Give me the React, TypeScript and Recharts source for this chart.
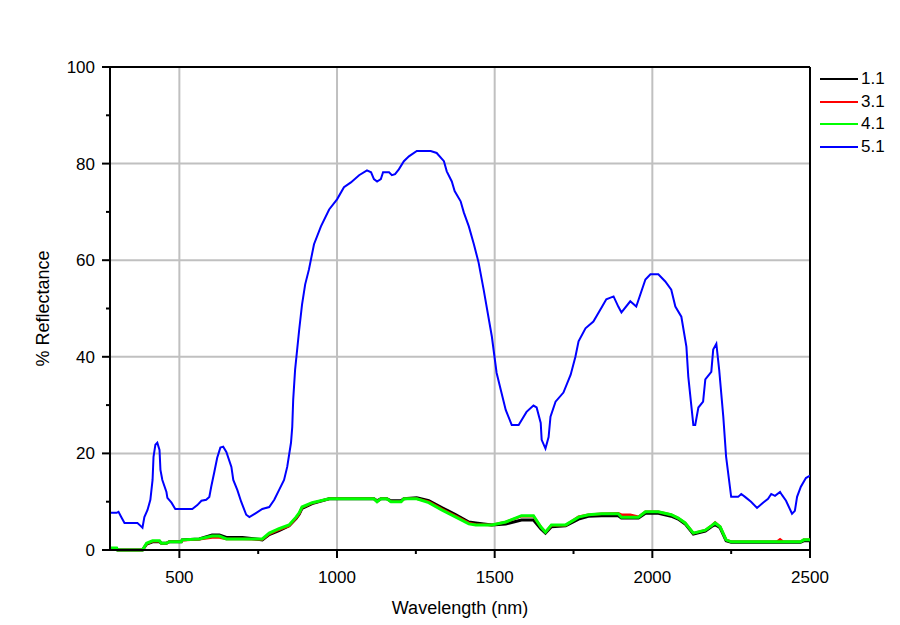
import {
  CartesianGrid,
  Label,
  Line,
  LineChart,
  ReferenceLine,
  XAxis,
  YAxis,
} from "recharts";

// wavelength (nm) for the three low spectra
const LOW_NM = [
  280, 301, 304, 383, 396, 415, 437, 443, 459, 468, 506, 509, 563, 604, 627, 649, 700, 763,
  785, 816, 848, 870, 880, 889, 921, 975, 1117, 1127, 1139, 1158, 1171, 1203, 1212, 1253,
  1291, 1332, 1377, 1418, 1440, 1491, 1535, 1585, 1623, 1646, 1661, 1680, 1725, 1766, 1797,
  1839, 1892, 1902, 1930, 1956, 1978, 2019, 2060, 2082, 2104, 2130, 2168, 2187, 2199, 2215,
  2234, 2250, 2395, 2405, 2415, 2470, 2480, 2500,
];

const S11_PCT = [
  0.3, 0.3, 0, 0, 1.2, 1.7, 1.7, 1.4, 1.4, 1.7, 1.7, 2.1, 2.3, 3.1, 3.1, 2.6, 2.6, 2.1, 3.2,
  4.0, 5.0, 6.5, 7.4, 8.6, 9.6, 10.6, 10.6, 10.2, 10.6, 10.6, 10.2, 10.2, 10.6, 10.8, 10.2,
  8.8, 7.3, 5.8, 5.6, 5.2, 5.4, 6.2, 6.2, 4.4, 3.5, 4.8, 5.0, 6.4, 7.0, 7.1, 7.1, 6.6, 6.6,
  6.6, 7.6, 7.6, 7.0, 6.4, 5.4, 3.3, 3.9, 4.8, 5.3, 4.6, 1.9, 1.6, 1.6, 1.6, 1.6, 1.6, 1.9,
  1.9,
];

const S31_PCT = [
  0.2, 0.2, 0, 0, 1.3, 1.8, 1.8, 1.4, 1.4, 1.7, 1.7, 2.0, 2.2, 2.6, 2.6, 2.3, 2.3, 2.2, 3.3,
  4.2, 5.0, 6.6, 7.5, 8.8, 9.7, 10.6, 10.6, 10.0, 10.6, 10.6, 10.0, 10.0, 10.6, 10.6, 10.0,
  8.5, 7.0, 5.6, 5.3, 5.2, 5.8, 7.0, 7.0, 4.8, 3.7, 5.1, 5.1, 6.9, 7.3, 7.5, 7.6, 7.3, 7.3,
  6.9, 7.9, 7.9, 7.3, 6.6, 5.6, 3.5, 4.1, 5.0, 5.7, 4.8, 2.1, 1.7, 1.7, 2.2, 1.7, 1.7, 2.1,
  2.1,
];

const S41_PCT = [
  0.4, 0.4, 0, 0, 1.4, 1.9, 1.9, 1.4, 1.4, 1.7, 1.7, 2.1, 2.3, 2.9, 2.9, 2.3, 2.3, 2.3, 3.5,
  4.4, 5.2, 6.8, 7.7, 8.9, 9.8, 10.6, 10.6, 10.0, 10.6, 10.6, 10.0, 10.0, 10.6, 10.6, 9.8,
  8.3, 6.8, 5.4, 5.2, 5.2, 5.8, 7.1, 7.1, 4.8, 3.7, 5.2, 5.2, 6.8, 7.3, 7.5, 7.5, 6.8, 6.8,
  6.8, 7.9, 7.9, 7.3, 6.6, 5.6, 3.5, 4.1, 5.0, 5.6, 4.8, 2.1, 1.7, 1.7, 1.7, 1.7, 1.7, 2.1,
  2.1,
];

// 5.1 spectrum
const S51_NM = [
  280, 301, 307, 316, 326, 367, 377, 383, 389, 399, 408, 415, 418, 424, 430, 437, 440, 446,
  459, 462, 475, 487, 541, 557, 570, 585, 595, 601, 611, 620, 630, 639, 649, 665, 671, 684,
  696, 712, 722, 744, 763, 785, 801, 816, 832, 842, 854, 858, 861, 867, 880, 889, 899, 911,
  927, 949, 975, 1000, 1022, 1044, 1070, 1095, 1108, 1117, 1127, 1139, 1146, 1165, 1174,
  1184, 1196, 1212, 1228, 1253, 1297, 1316, 1339, 1348, 1364, 1373, 1392, 1402, 1418, 1434,
  1449, 1465, 1491, 1506, 1535, 1554, 1576, 1601, 1623, 1633, 1646, 1649, 1661, 1671, 1677,
  1693, 1718, 1741, 1756, 1766, 1788, 1813, 1839, 1854, 1877, 1892, 1902, 1930, 1949, 1978,
  1994, 2019, 2041, 2060, 2073, 2092, 2108, 2114, 2130, 2136, 2146, 2161, 2168, 2187, 2193,
  2203, 2212, 2225, 2234, 2250, 2272, 2282, 2294, 2313, 2332, 2351, 2367, 2377, 2389, 2405,
  2411, 2424, 2443, 2452, 2459, 2471, 2487, 2500,
];

const S51_PCT = [
  7.7, 7.7, 7.9, 6.8, 5.6, 5.6, 5.0, 4.6, 6.8, 8.3, 10.4, 14.5, 19.3, 21.8, 22.2, 20.7, 16.6,
  14.5, 12.0, 10.8, 9.8, 8.5, 8.5, 9.3, 10.2, 10.4, 11.0, 13.1, 16.2, 19.1, 21.2, 21.4, 20.3,
  17.2, 14.5, 12.4, 10.0, 7.3, 6.8, 7.7, 8.5, 8.9, 10.4, 12.4, 14.5, 17.2, 22.2, 25.5, 31.1,
  37.3, 45.6, 50.8, 55.0, 58.1, 63.3, 67.0, 70.5, 72.6, 75.1, 76.1, 77.6, 78.6, 78.2, 76.8,
  76.3, 76.8, 78.2, 78.2, 77.6, 77.8, 78.8, 80.5, 81.5, 82.6, 82.6, 82.2, 80.5, 78.4, 76.3,
  74.3, 72.2, 69.9, 67.0, 63.3, 59.5, 53.9, 44.2, 36.7, 29.0, 25.9, 25.9, 28.6, 29.9, 29.5,
  26.3, 22.8, 21.0, 23.4, 27.6, 30.7, 32.6, 36.3, 40.0, 43.2, 45.9, 47.3, 50.2, 51.9, 52.5,
  50.4, 49.2, 51.5, 50.4, 56.0, 57.1, 57.1, 55.6, 53.9, 50.4, 48.3, 42.1, 35.9, 25.9, 25.9,
  29.5, 30.7, 35.3, 36.9, 41.5, 42.7, 37.3, 27.6, 19.3, 11.0, 11.0, 11.6, 11.0, 10.0, 8.7,
  9.8, 10.6, 11.6, 11.2, 12.0, 11.4, 10.2, 7.5, 8.1, 11.0, 13.1, 14.9, 15.4,
];

const X_TICKS = [500, 750, 1000, 1250, 1500, 1750, 2000, 2250, 2500];
const Y_TICKS = [0, 10, 20, 30, 40, 50, 60, 70, 80, 90, 100];

const FONT = "'Liberation Sans', Arial, sans-serif";

const toPoints = (nm: number[], pct: number[]) =>
  nm.map((n, i) => ({ nm: n, pct: pct[i] }));

const SERIES = [
  { name: "1.1", color: "#000000", width: 3, data: toPoints(LOW_NM, S11_PCT) },
  { name: "3.1", color: "#ff0000", width: 2.5, data: toPoints(LOW_NM, S31_PCT) },
  { name: "4.1", color: "#00ff00", width: 3, data: toPoints(LOW_NM, S41_PCT) },
  { name: "5.1", color: "#0000ff", width: 2, data: toPoints(S51_NM, S51_PCT) },
];

function XTick({ x, y, payload }: any) {
  const major = payload.value % 500 === 0;
  return (
    <g>
      <line x1={x} x2={x} y1={y} y2={y + (major ? 8 : 4)} stroke="#000" strokeWidth={2} />
      {major && (
        <text x={x} y={y + 33} textAnchor="middle" fontSize={17} fontFamily={FONT} fill="#000">
          {payload.value}
        </text>
      )}
    </g>
  );
}

function YTick({ x, y, payload }: any) {
  const major = payload.value % 20 === 0;
  return (
    <g>
      <line x1={x - (major ? 8 : 4)} x2={x} y1={y} y2={y} stroke="#000" strokeWidth={2} />
      {major && (
        <text x={x - 15} y={y + 6} textAnchor="end" fontSize={17} fontFamily={FONT} fill="#000">
          {payload.value}
        </text>
      )}
    </g>
  );
}

function SeriesLegend() {
  return (
    <div style={{ position: "absolute", left: 0, top: 0 }}>
      {SERIES.map((s, i) => (
        <div key={s.name} style={{ position: "absolute", left: 820, top: 69 + i * 22.5, height: 20, width: 80 }}>
          <div style={{ position: "absolute", left: 0, top: 9, width: 38, height: 2, background: s.color }} />
          <div
            style={{
              position: "absolute",
              left: 41,
              top: 0,
              fontSize: 17,
              lineHeight: "20px",
              fontFamily: FONT,
              color: "#000",
            }}
          >
            {s.name}
          </div>
        </div>
      ))}
    </div>
  );
}

export default function App() {
  return (
    <div style={{ position: "absolute", left: 0, top: 0, width: 900, height: 625, background: "#fff" }}>
      <LineChart width={900} height={625} margin={{ top: 67, right: 90, left: 0, bottom: 0 }}>
        <CartesianGrid
          stroke="#c0c0c0"
          strokeWidth={2}
          horizontalValues={[20, 40, 60, 80]}
          verticalValues={[500, 1000, 1500, 2000]}
        />
        <XAxis
          type="number"
          dataKey="nm"
          domain={[280, 2500]}
          ticks={X_TICKS}
          interval={0}
          allowDataOverflow
          height={75}
          tickSize={0}
          tickMargin={0}
          tickLine={false}
          axisLine={{ stroke: "#000", strokeWidth: 2 }}
          tick={(p: any) => <XTick {...p} />}
        >
          <Label
            value="Wavelength (nm)"
            position="insideBottom"
            offset={11}
            style={{ fontSize: 18, fontFamily: FONT, fill: "#000" }}
          />
        </XAxis>
        <YAxis
          type="number"
          domain={[0, 100]}
          ticks={Y_TICKS}
          interval={0}
          width={110}
          tickSize={0}
          tickMargin={0}
          tickLine={false}
          axisLine={{ stroke: "#000", strokeWidth: 2 }}
          tick={(p: any) => <YTick {...p} />}
        >
          <Label
            value="% Reflectance"
            angle={-90}
            position="insideLeft"
            offset={43}
            style={{ fontSize: 18, fontFamily: FONT, fill: "#000", textAnchor: "middle" }}
          />
        </YAxis>
        <ReferenceLine y={100} stroke="#000" strokeWidth={2} />
        <ReferenceLine x={2500} stroke="#000" strokeWidth={2} />
        {SERIES.map((s) => (
          <Line
            key={s.name}
            data={s.data}
            dataKey="pct"
            name={s.name}
            type="linear"
            stroke={s.color}
            strokeWidth={s.width}
            dot={false}
            activeDot={false}
            isAnimationActive={false}
          />
        ))}
      </LineChart>
      <SeriesLegend />
    </div>
  );
}
